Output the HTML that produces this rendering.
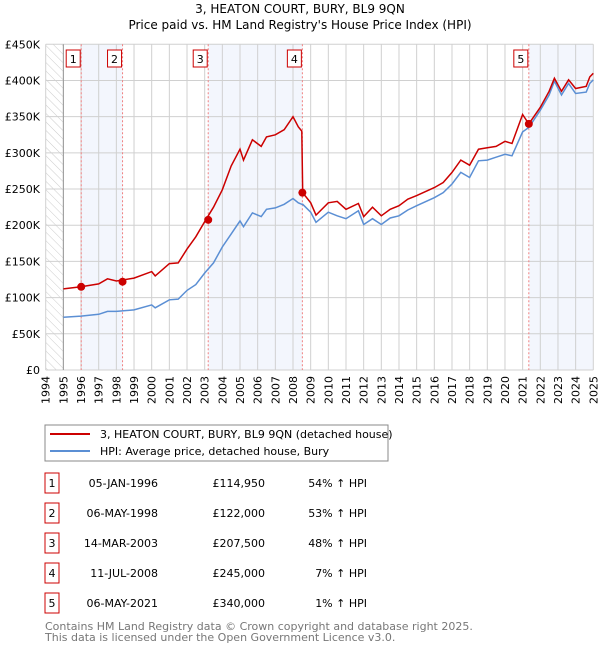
<!DOCTYPE html>
<html><head><meta charset="utf-8"><style>
body{margin:0;background:#fff;width:600px;height:650px;overflow:hidden}
svg{font-family:"DejaVu Sans","Liberation Sans",sans-serif}
</style></head><body>
<svg id="chart" width="600" height="650" viewBox="0 0 600 650">
<defs><pattern id="hatch" width="6" height="6" patternUnits="userSpaceOnUse" patternTransform="rotate(-45)"><line x1="0" y1="0" x2="0" y2="6" stroke="#ccc" stroke-width="1"/></pattern></defs>
<text x="300" y="13" text-anchor="middle" font-size="12">3, HEATON COURT, BURY, BL9 9QN</text>
<text x="300" y="29" text-anchor="middle" font-size="12">Price paid vs. HM Land Registry's House Price Index (HPI)</text>
<g id="plot"></g>
<g>
<rect x="45" y="425" width="343" height="36" fill="#fff" stroke="#888"/>
<line x1="50" y1="434" x2="90" y2="434" stroke="#cc0000" stroke-width="2"/>
<text x="100" y="438" font-size="11">3, HEATON COURT, BURY, BL9 9QN (detached house)</text>
<line x1="50" y1="451" x2="90" y2="451" stroke="#5b8fd4" stroke-width="2"/>
<text x="100" y="455" font-size="11">HPI: Average price, detached house, Bury</text>
</g>
<g id="table" font-size="11"></g>
<text x="45" y="630" font-size="11" fill="#777">Contains HM Land Registry data © Crown copyright and database right 2025.</text>
<text x="45" y="641" font-size="11" fill="#777">This data is licensed under the Open Government Licence v3.0.</text>
</svg>
<script>
const dates=[1995,1996,1997,1997.5,1998,1999,2000,2000.2,2001,2001.5,2002,2002.5,2003,2003.5,2004,2004.5,2005,2005.2,2005.7,2006.2,2006.5,2007,2007.5,2008,2008.3,2008.5,2008.55,2009,2009.3,2010,2010.5,2011,2011.7,2012,2012.5,2013,2013.5,2014,2014.5,2015,2016,2016.5,2017,2017.5,2018,2018.5,2019,2019.5,2020,2020.4,2021,2021.35,2022,2022.5,2022.8,2023.2,2023.6,2024,2024.6,2024.8,2025];
const hpiValues=[73,74.5,77,81,81,83,90,86,97,98,110,118,134,148,170,188,206,198,217,212,222,224,229,237,231,229,229,218,204,218,213,209,220,201,209,201,210,213,221,227,238,245,257,273,266,289,290,294,298,296,329,335,359,380,399,380,396,382,384,396,401];
const propertyValues=[112,115,119,126,123,127,136,130,147,148,167,184,205,225,249,282,305,290,318,309,322,325,332,350,336,330,245,231,214,231,233,222,230,212,225,213,222,227,236,241,252,259,273,290,283,305,307,309,316,313,353,340,363,385,403,385,401,389,392,405,410];
const saleDates=[1996.01,1998.35,2003.2,2008.53,2021.35];
const salePrices=[114.95,122,207.5,245,340];
const saleLabels=["05-JAN-1996","06-MAY-1998","14-MAR-2003","11-JUL-2008","06-MAY-2021"];
const salePriceText=["£114,950","£122,000","£207,500","£245,000","£340,000"];
const salePctText=["54% ↑ HPI","53% ↑ HPI","48% ↑ HPI","7% ↑ HPI","1% ↑ HPI"];
const yTicks=[0,50,100,150,200,250,300,350,400,450];
const yTickLabels=["£0","£50K","£100K","£150K","£200K","£250K","£300K","£350K","£400K","£450K"];
const xYears=[];for(let y=1994;y<=2025;y++)xYears.push(y);

const NS="http://www.w3.org/2000/svg";
const X0=45.7,X1=593.3,Y0=370,Y1=44.3;
const xs=t=>X0+(t-1994)/31*(X1-X0);
const ys=v=>Y0-v/450*(Y0-Y1);
const plot=document.getElementById('plot');
function mk(tag,attrs,parent){const e=document.createElementNS(NS,tag);for(const k in attrs)e.setAttribute(k,attrs[k]);(parent||plot).appendChild(e);return e;}

const bands=[[saleDates[0],saleDates[1]],[saleDates[2],saleDates[3]],[saleDates[4],2025]];
bands.forEach(b=>{const r=mk('rect',{x:xs(b[0]),y:Y1,width:xs(b[1])-xs(b[0]),height:Y0-Y1,fill:'#f3f6fd'});

});
const h=mk('rect',{x:X0,y:Y1,width:xs(1995)-X0,height:Y0-Y1,fill:'url(#hatch)'});


xYears.forEach(y=>{const l=mk('line',{x1:xs(y),x2:xs(y),y1:Y1,y2:Y0,stroke:'#d0d0d0','stroke-width':1});


const t=mk('text',{x:0,y:0,'font-size':11,'text-anchor':'end',transform:`translate(${xs(y)+4},${Y0+6}) rotate(-90)`});t.textContent=y;

});
yTicks.forEach((v,i)=>{const l=mk('line',{x1:X0,x2:X1,y1:ys(v),y2:ys(v),stroke:'#d0d0d0','stroke-width':1});


const t=mk('text',{x:40,y:ys(v)+4,'font-size':11,'text-anchor':'end'});t.textContent=yTickLabels[i];

});
mk('line',{x1:xs(1995),x2:xs(1995),y1:Y1,y2:Y0,stroke:'#999'});
saleDates.forEach((d,i)=>{const l=mk('line',{x1:xs(d),x2:xs(d),y1:Y1,y2:Y0,stroke:'#f08080','stroke-dasharray':'2,2','stroke-width':1});


const r=mk('rect',{x:xs(d)-15,y:50,width:14,height:17,fill:'#fff',stroke:'#cc0000'});


const t=mk('text',{x:xs(d)-8,y:63,'font-size':11,'text-anchor':'middle'});t.textContent=i+1;

});
const path=vals=>dates.map((d,i)=>(i?'L':'M')+xs(d).toFixed(1)+','+ys(vals[i]).toFixed(1)).join('');
const hp=mk('path',{d:path(hpiValues),fill:'none',stroke:'#5b8fd4','stroke-width':1.5});


const pp=mk('path',{d:path(propertyValues),fill:'none',stroke:'#cc0000','stroke-width':1.5});


saleDates.forEach((d,i)=>{const c=mk('circle',{cx:xs(d),cy:ys(salePrices[i]),r:4,fill:'#cc0000'});

});
const tb=document.getElementById('table');
saleDates.forEach((d,i)=>{const cy=483+i*30;
const r=mk('rect',{x:45,y:cy-10,width:14,height:20,fill:'#fff',stroke:'#cc0000'},tb);


const cells=[[52,'middle',String(i+1),'table-row-number'],[158,'end',saleLabels[i],'table-sale-date'],[265,'end',salePriceText[i],'table-sale-price'],[367,'end',salePctText[i],'table-hpi-diff']];
cells.forEach(c=>{const t=mk('text',{x:c[0],y:cy+4,'text-anchor':c[1]},tb);t.textContent=c[2];

});});
</script>
</body></html>
